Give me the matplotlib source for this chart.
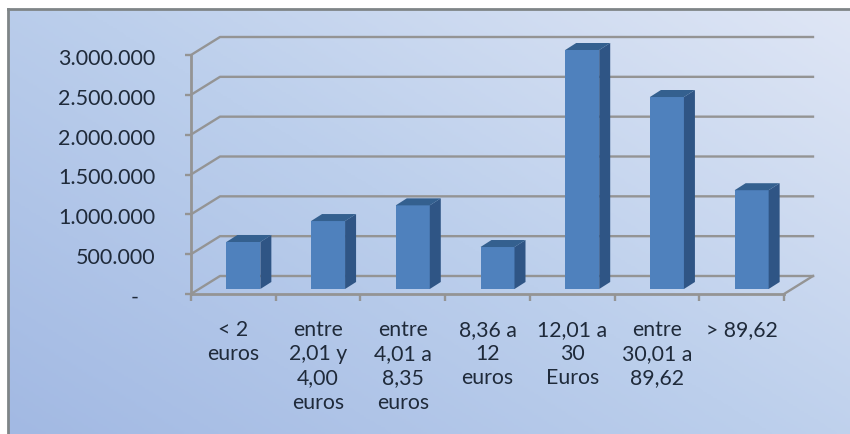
import numpy as np
import matplotlib.pyplot as plt
from matplotlib.colors import LinearSegmentedColormap
from matplotlib.transforms import ScaledTranslation

categorias = ["< 2\neuros", "entre\n2,01 y\n4,00\neuros", "entre\n4,01 a\n8,35\neuros",
              "8,36 a\n12\neuros", "12,01 a\n30\nEuros", "entre\n30,01 a\n89,62", "> 89,62"]
valores = [590000, 853000, 1050000, 527000, 3000000, 2410000, 1240000]
ticks = [0, 500000, 1000000, 1500000, 2000000, 2500000, 3000000]
tick_labels = ["-   ", "500.000", "1.000.000", "1.500.000", "2.000.000", "2.500.000", "3.000.000"]

W, H = 850, 434
plt.rcParams['font.family'] = ['Lato', 'DejaVu Sans']
fig = plt.figure(figsize=(W / 100, H / 100), dpi=100, facecolor="white")

# fondo con degradado
bg = fig.add_axes([8 / W, 0, 1 - 8 / W, 1 - 9 / H])
yy, xx = np.mgrid[0:1:200j, 0:1:400j]
cmap = LinearSegmentedColormap.from_list("fondo", ["#a2b9e3", "#bccfec", "#dfe6f5"])
bg.imshow(0.55 * xx + 0.45 * yy, origin="lower", aspect="auto", cmap=cmap, vmin=0, vmax=1)
bg.set_xticks([])
bg.set_yticks([])
for s in ["right", "bottom"]:
    bg.spines[s].set_visible(False)
for s in ["left", "top"]:
    bg.spines[s].set_color("#7f8587")
    bg.spines[s].set_linewidth(2)

# ejes: frente del suelo de x=191 a x=784, 0 en y=294, 3M en y=55
x0, x1, y0, y1 = 191, 784, 294, 55
ax = fig.add_axes([x0 / W, 1 - y0 / H, (x1 - x0) / W, (y0 - y1) / H])
ax.patch.set_alpha(0)
n = len(valores)
ax.set_xlim(0, n)
ax.set_ylim(0, 3000000)
px = n / (x1 - x0)
py = 3000000 / (y0 - y1)
gris = "#949494"

# paredes y rejilla
dx, dy = 29 * px, 18 * py
for t in ticks:
    ax.plot([0, dx, n + dx], [t, t + dy, t + dy], color=gris, lw=1.7, clip_on=False, zorder=1)
ax.plot([n, n + dx], [0, dy], color=gris, lw=1.7, clip_on=False, zorder=1)

# barras con efecto 3D
bx, by = 10 * px, 5 * py
ancho = 34 * px
fx, fy = 11 * px, 7 * py
for i, v in enumerate(valores):
    izq = i + 0.5 - ancho / 2 + bx
    der = izq + ancho
    ax.bar(izq, v, width=ancho, bottom=by, align="edge", color="#4f81bd", zorder=3, clip_on=False)
    ax.fill([der, der + fx, der + fx, der], [by, by + fy, by + v + fy, by + v],
            color="#2f5585", lw=0, zorder=3, clip_on=False)
    ax.fill([izq, izq + fx, der + fx, der], [by + v, by + v + fy, by + v + fy, by + v],
            color="#34608f", lw=0, zorder=3, clip_on=False)

for s in ["top", "right"]:
    ax.spines[s].set_visible(False)
for s in ["left", "bottom"]:
    ax.spines[s].set_color(gris)
    ax.spines[s].set_linewidth(2)
ax.set_xticks(range(n + 1))
ax.set_xticklabels([])
ax.set_yticks(ticks)
ax.set_yticklabels(tick_labels)
ax.tick_params(axis="x", color=gris, width=1.7, length=5)
ax.tick_params(axis="y", color=gris, width=1.7, length=4)
ax.tick_params(axis="y", labelsize=15.5, labelcolor="#1f2a3a", pad=21.5)
baja = ScaledTranslation(0, -2 / 100, fig.dpi_scale_trans)
for lab in ax.get_yticklabels():
    lab.set_transform(lab.get_transform() + baja)
for i, c in enumerate(categorias):
    ax.annotate(c, (i + 0.5, 0), xytext=(0, -18.5), textcoords="offset points",
                ha="center", va="top", fontsize=15.3, color="#1f2a3a", linespacing=1.27)

fig.savefig("out.png", dpi=100)
